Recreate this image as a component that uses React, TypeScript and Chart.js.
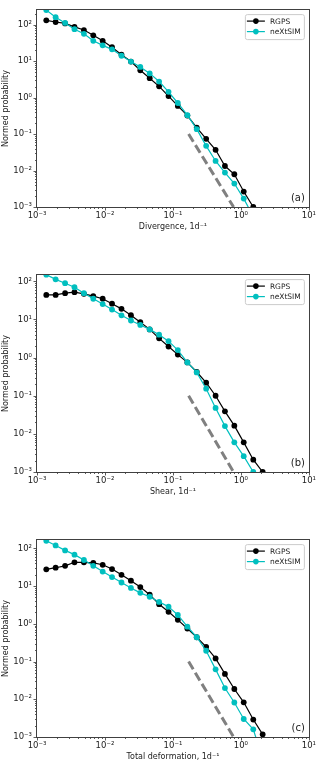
import React, { useEffect, useRef } from "react";
import { Chart, registerables } from "chart.js";
Chart.register(...registerables);

// Bin centres (1/day)
const binCenters = [0.00137, 0.00188, 0.00259, 0.00356, 0.0049, 0.00673, 0.00925, 0.0127, 0.0175, 0.0241, 0.0331, 0.0455, 0.0626, 0.0861, 0.118, 0.163, 0.224, 0.308, 0.424, 0.582, 0.80, 1.10, 1.52, 2.09];

// (a) Divergence
const divRGPS = [131, 118, 108, 87, 71, 51, 36, 24, 15, 9.7, 5.6, 3.4, 2.03, 1.1, 0.59, 0.32, 0.15, 0.074, 0.037, 0.0133, 0.0079, 0.00265, 0.001];
const divSIM = [250, 160, 111, 75, 56, 36, 27, 21, 14, 9.7, 6.9, 4.6, 2.75, 1.44, 0.71, 0.33, 0.136, 0.0475, 0.0183, 0.0088, 0.0044, 0.0017, 0.00055];
// (b) Shear
const shearRGPS = [44, 44, 49, 52, 47, 41, 35, 26, 19, 13, 8.5, 5.5, 3.2, 1.95, 1.2, 0.75, 0.42, 0.22, 0.10, 0.039, 0.0164, 0.006, 0.0021, 0.001];
const shearSIM = [150, 113, 89.5, 70, 49, 35, 25.4, 18.2, 12.9, 9.4, 7.2, 5.5, 4.0, 2.7, 1.58, 0.75, 0.41, 0.153, 0.048, 0.016, 0.006, 0.0026, 0.001, 0.0004];
// (c) Total deformation
const totRGPS = [27.7, 30.6, 34.4, 42.6, 42.6, 41, 36.6, 28.2, 19.8, 13.9, 9.4, 5.9, 3.3, 2.08, 1.27, 0.75, 0.44, 0.245, 0.121, 0.047, 0.0187, 0.0083, 0.0029, 0.00117];
const totSIM = [158, 119, 88, 68, 49, 34.4, 24.2, 17.3, 12.4, 8.9, 6.6, 5.2, 3.8, 2.84, 1.71, 0.84, 0.44, 0.193, 0.062, 0.0198, 0.0082, 0.0030, 0.0016, 0.00026];

// Reference power law (dashed)
const refX = [0.17, 0.78];
const refY = [0.1, 0.001];

const xTickValues = [1e-3, 1e-2, 1e-1, 1, 10];
const xTickLabels = ["10⁻³", "10⁻²", "10⁻¹", "10⁰", "10¹"];
const yTickValues = [1e-3, 1e-2, 1e-1, 1, 10, 100];
const yTickLabels = ["10⁻³", "10⁻²", "10⁻¹", "10⁰", "10¹", "10²"];

const panelLabels = ["(a)", "(b)", "(c)"];
const xTitles = ["Divergence, 1d⁻¹", "Shear, 1d⁻¹", "Total deformation, 1d⁻¹"];
const yMaxes = [250, 146, 165];
const seriesNames = ["RGPS", "neXtSIM"];

const FONT = "'DejaVu Sans', sans-serif";
const BLACK = "#000000";
const CYAN = "#00BFBF";
const TEXT = "#222222";

function labelFor(v: number, vals: number[], labs: string[]) {
  const i = vals.findIndex((t) => Math.abs(Math.log10(t) - Math.log10(v)) < 1e-6);
  return i >= 0 ? labs[i] : "";
}

function makePlugin(label: string) {
  return {
    id: "mplDecor",
    afterDraw(chart: any) {
      const { ctx, chartArea: a, scales } = chart;
      const xs = scales.x;
      const ys = scales.y;
      ctx.save();
      // minor / major ticks
      ctx.strokeStyle = "#333";
      ctx.lineWidth = 0.8;
      ctx.beginPath();
      for (let d = -3; d <= 1; d++) {
        for (let m = 1; m <= 9; m++) {
          const v = m * Math.pow(10, d);
          if (v > 10 * 1.0001) break;
          const px = Math.round(xs.getPixelForValue(v)) + 0.5;
          const len = m === 1 ? 3.5 : 2;
          ctx.moveTo(px, a.bottom);
          ctx.lineTo(px, a.bottom + len);
        }
      }
      for (let d = -3; d <= 2; d++) {
        for (let m = 1; m <= 9; m++) {
          const v = m * Math.pow(10, d);
          if (v > ys.max) break;
          const py = Math.round(ys.getPixelForValue(v)) + 0.5;
          const len = m === 1 ? 3.5 : 2;
          ctx.moveTo(a.left, py);
          ctx.lineTo(a.left - len, py);
        }
      }
      ctx.stroke();
      // frame
      ctx.strokeStyle = "#404040";
      ctx.lineWidth = 1;
      const l = Math.round(a.left) - 0.5;
      const t = Math.round(a.top) - 0.5;
      const r = Math.round(a.right) + 0.5;
      const b = Math.round(a.bottom) + 0.5;
      ctx.strokeRect(l, t, r - l, b - t);
      // legend
      const bx = a.right - 64;
      const by = a.top + 4;
      const bw = 59;
      const bh = 25;
      ctx.beginPath();
      ctx.roundRect(bx + 0.5, by + 0.5, bw, bh, 2);
      ctx.fillStyle = "rgba(255,255,255,0.85)";
      ctx.fill();
      ctx.strokeStyle = "#cccccc";
      ctx.lineWidth = 1;
      ctx.stroke();
      const colors = [BLACK, CYAN];
      seriesNames.forEach((name, i) => {
        const yy = by + 7 + i * 10.5;
        ctx.strokeStyle = colors[i];
        ctx.lineWidth = 1.2;
        ctx.beginPath();
        ctx.moveTo(bx + 2, yy);
        ctx.lineTo(bx + 20, yy);
        ctx.stroke();
        ctx.fillStyle = colors[i];
        ctx.beginPath();
        ctx.arc(bx + 11, yy, 2.8, 0, Math.PI * 2);
        ctx.fill();
        ctx.fillStyle = TEXT;
        ctx.font = `7.5px ${FONT}`;
        ctx.textBaseline = "middle";
        ctx.textAlign = "left";
        ctx.fillText(name, bx + 25, yy + 0.5);
      });
      // panel label
      ctx.fillStyle = TEXT;
      ctx.font = `10px ${FONT}`;
      ctx.textAlign = "right";
      ctx.textBaseline = "middle";
      ctx.fillText(label, a.right - 4, a.bottom - 9);
      ctx.restore();
    },
  };
}

function Panel({ idx, rgps, sim }: { idx: number; rgps: number[]; sim: number[] }) {
  const ref = useRef<HTMLCanvasElement>(null);
  useEffect(() => {
    if (!ref.current) return;
    const chart = new Chart(ref.current, {
      type: "line",
      data: {
        datasets: [
          {
            label: seriesNames[1],
            data: sim.map((y, i) => ({ x: binCenters[i], y })),
            borderColor: CYAN,
            backgroundColor: CYAN,
            borderWidth: 1.2,
            pointRadius: 2.9,
            pointBorderWidth: 0,
            pointBackgroundColor: CYAN,
            tension: 0,
          },
          {
            label: seriesNames[0],
            data: rgps.map((y, i) => ({ x: binCenters[i], y })),
            borderColor: BLACK,
            backgroundColor: BLACK,
            borderWidth: 1.2,
            pointRadius: 2.9,
            pointBorderWidth: 0,
            pointBackgroundColor: BLACK,
            tension: 0,
          },
          {
            label: "ref",
            data: refX.map((x, i) => ({ x, y: refY[i] })),
            borderColor: "#808080",
            borderWidth: 3,
            borderDash: [9, 4],
            pointRadius: 0,
            tension: 0,
          },
        ],
      },
      options: {
        responsive: false,
        animation: false,
        devicePixelRatio: 1,
        parsing: false as any,
        layout: { padding: { top: 3, right: 9, left: 0, bottom: 0 } },
        plugins: { legend: { display: false }, tooltip: { enabled: false } },
        scales: {
          x: {
            type: "logarithmic",
            min: 1e-3,
            max: 10,
            position: "bottom",
            afterBuildTicks: (s: any) => {
              s.ticks = xTickValues.map((v) => ({ value: v }));
            },
            afterFit: (s: any) => {
              s.height = 26;
            },
            grid: { display: false, drawTicks: false },
            border: { display: false },
            ticks: {
              autoSkip: false,
              maxRotation: 0,
              minRotation: 0,
              padding: 4,
              color: TEXT,
              font: { family: FONT, size: 8.5 },
              callback: (v: any) => labelFor(Number(v), xTickValues, xTickLabels),
            },
            title: {
              display: true,
              text: xTitles[idx],
              color: TEXT,
              font: { family: FONT, size: 8 },
              padding: { top: 0, bottom: 1 },
            },
          },
          y: {
            type: "logarithmic",
            min: 1e-3,
            max: yMaxes[idx],
            position: "left",
            afterBuildTicks: (s: any) => {
              s.ticks = yTickValues.map((v) => ({ value: v }));
            },
            afterFit: (s: any) => {
              s.width = 37;
            },
            grid: { display: false, drawTicks: false },
            border: { display: false },
            ticks: {
              autoSkip: false,
              padding: 5,
              color: TEXT,
              font: { family: FONT, size: 8.5 },
              callback: (v: any) => labelFor(Number(v), yTickValues, yTickLabels),
            },
            title: {
              display: true,
              text: "Normed probability",
              color: TEXT,
              font: { family: FONT, size: 8 },
              padding: { top: 1, bottom: 0 },
            },
          },
        },
      },
      plugins: [makePlugin(panelLabels[idx])],
    } as any);
    return () => chart.destroy();
  }, []);
  return (
    <div style={{ position: "absolute", left: 0, top: idx * 265, width: 320, height: 233 }}>
      <canvas ref={ref} width={320} height={233} style={{ display: "block", width: 320, height: 233 }} />
    </div>
  );
}

export default function App() {
  return (
    <div style={{ position: "absolute", left: 0, top: 0, width: 320, height: 763, background: "#fff", overflow: "hidden" }}>
      <Panel idx={0} rgps={divRGPS} sim={divSIM} />
      <Panel idx={1} rgps={shearRGPS} sim={shearSIM} />
      <Panel idx={2} rgps={totRGPS} sim={totSIM} />
    </div>
  );
}
